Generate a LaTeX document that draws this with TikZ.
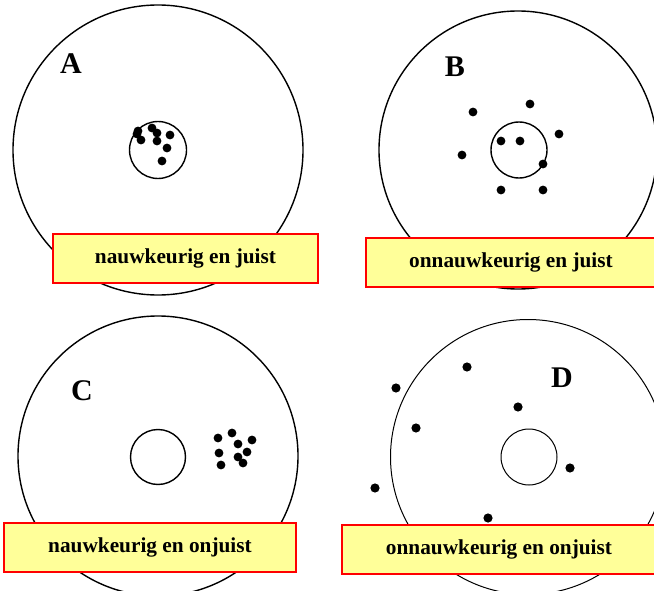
\documentclass[tikz,border=0pt]{standalone}
\usepackage{fontspec}
\setmainfont{Liberation Serif}
\definecolor{boxyellow}{HTML}{FFFF99}
\definecolor{boxred}{HTML}{FF0000}
\begin{document}
\begin{tikzpicture}[x=1pt,y=-1pt,
  ring/.style={draw=black,line width=1.4pt},
  thinring/.style={draw=black,line width=1pt},
  shot/.style={fill=black},
  tag/.style={draw=boxred,line width=2pt,fill=boxyellow,minimum height=49pt,inner sep=0pt,font=\bfseries\fontsize{21.3}{24}\selectfont},
  letter/.style={font=\bfseries\fontsize{30}{32}\selectfont,inner sep=0pt}]
\useasboundingbox (0,0) rectangle (654,591);
% A
\draw[ring] (158,150) circle[radius=145];
\draw[ring] (158,150) circle[radius=28.5];
\node[letter] (la) at (71,64) {A};
\node[tag,minimum width=265pt] (ta) at (185.5,258.5) {nauwkeurig en juist};
\foreach \p in {(138,131),(137,134),(141,140),(152,128),(157,133),(157,141),(170,135),(167,148),(162,161)}
  \fill[shot] \p circle[radius=4.4];
% B
\draw[ring] (518,150) circle[radius=139];
\draw[ring] (519,150) circle[radius=28];
\node[letter] (lb) at (455,67) {B};
\node[tag,minimum width=290pt] (tb) at (511,262.5) {onnauwkeurig en juist};
\foreach \p in {(473,112),(530,104),(559,134),(462,155),(501,141),(520,141),(543,164),(501,190),(543,190)}
  \fill[shot] \p circle[radius=4.4];
% C
\draw[ring] (158,456) circle[radius=140];
\draw[ring] (158,457) circle[radius=27.5];
\node[letter] (lc) at (82,391) {C};
\node[tag,minimum width=292pt] (tc) at (150,547.5) {nauwkeurig en onjuist};
\foreach \p in {(218,438),(232,433),(252,440),(238,444),(219,453),(247,452),(238,457),(243,463),(221,465)}
  \fill[shot] \p circle[radius=4.4];
% D
\draw[thinring] (528,457) circle[radius=137.5];
\draw[thinring] (529,457) circle[radius=28];
\node[letter] (ld) at (562,378) {D};
\node[tag,minimum width=314pt] (td) at (499,549.5) {onnauwkeurig en onjuist};
\foreach \p in {(396,388),(467,367),(518,407),(416,428),(570,468),(375,488),(488,518)}
  \fill[shot] \p circle[radius=4.6];
\end{tikzpicture}
\end{document}
